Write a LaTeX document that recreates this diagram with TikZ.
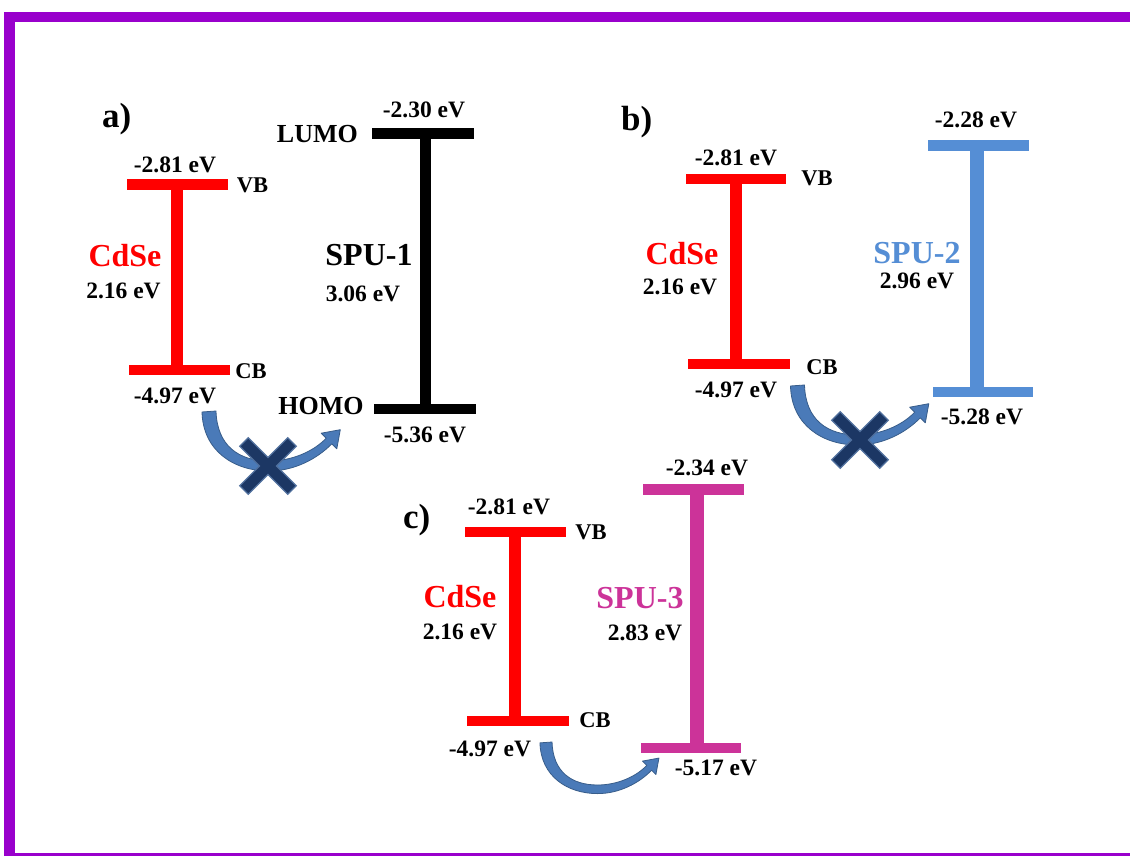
\documentclass[tikz,border=0pt]{standalone}
\usepackage{fontspec}
\setmainfont{Liberation Serif}
\definecolor{framecol}{HTML}{9900CC}
\definecolor{cdsecol}{HTML}{FF0000}
\definecolor{spuone}{HTML}{000000}
\definecolor{sputwo}{HTML}{558ED5}
\definecolor{sputhree}{HTML}{CC3399}
\definecolor{arrowfill}{HTML}{4A7AB8}
\definecolor{arrowedge}{HTML}{385D8A}
\definecolor{crossfill}{HTML}{1C3764}
\definecolor{crossedge}{HTML}{50709E}
\tikzset{
  hlevel/.style={line width=10.5pt, line cap=butt},
  vlevel/.style={line width=12pt, line cap=butt},
  evlab/.style={font=\fontsize{23.5}{26}\selectfont\bfseries, inner sep=0pt},
  bandlab/.style={font=\fontsize{22.5}{25}\selectfont\bfseries, inner sep=0pt},
  orblab/.style={font=\fontsize{26}{29}\selectfont\bfseries, inner sep=0pt},
  namelab/.style={font=\fontsize{32}{36}\selectfont\bfseries, inner sep=0pt},
  panellab/.style={font=\fontsize{35}{40}\selectfont\bfseries, inner sep=0pt, anchor=base west},
  curvedarrow/.pic={
    \filldraw[fill=arrowfill, draw=arrowedge, line width=0.8pt, line join=round]
      (-7,1) .. controls (-6,40) and (25,60) .. (60,60)
      .. controls (85,60) and (108,48) .. (122.8,32.8)
      -- (127.8,37.8) -- (131.3,18.7) -- (112.2,22.2) -- (117.2,27.2)
      .. controls (104,41) and (82,50) .. (60,50)
      .. controls (30,50) and (8,35) .. (7,0) -- cycle;
  },
  crossmark/.pic={
    \filldraw[fill=crossfill, draw=crossedge, line width=1.2pt, rotate=45]
      (6,6) -- (34,6) -- (34,-6) -- (6,-6) -- (6,-34) -- (-6,-34) -- (-6,-6)
      -- (-34,-6) -- (-34,6) -- (-6,6) -- (-6,34) -- (6,34) -- cycle;
  }
}
\begin{document}
\begin{tikzpicture}[x=1pt,y=-1pt]
\useasboundingbox (0,0) rectangle (1130,856);
\clip (0,0) rectangle (1130,856);
\fill[white] (0,0) rectangle (1130,856);
% frame
\draw[framecol, line width=10.5pt] (9.5,17) rectangle (1140,858.5);

% ===== panel a =====
\node[panellab] (pa) at (102,128) {a)};
\draw[cdsecol, hlevel] (127,184.5) -- (228,184.5);
\draw[cdsecol, vlevel] (176.5,184.5) -- (176.5,370);
\draw[cdsecol, hlevel] (129,370) -- (230,370);
\node[evlab] (a-vbv) at (175,165) {-2.81 eV};
\node[bandlab] (a-vb) at (252.5,185.5) {VB};
\node[namelab, text=cdsecol] (a-cdse) at (125,256) {CdSe};
\node[evlab] (a-gap) at (123.5,291) {2.16 eV};
\node[bandlab] (a-cb) at (251,371) {CB};
\node[evlab] (a-cbv) at (175,396) {-4.97 eV};

\draw[spuone, hlevel] (372,133.5) -- (474,133.5);
\draw[spuone, vlevel, line width=11pt] (425.5,133.5) -- (425.5,409);
\draw[spuone, hlevel] (374,409) -- (476,409);
\node[evlab] (a-lumov) at (424,110) {-2.30 eV};
\node[orblab, anchor=east] (a-lumo) at (358,134) {LUMO};
\node[namelab] (a-spu) at (369,255) {SPU-1};
\node[evlab] (a-spugap) at (363,294) {3.06 eV};
\node[orblab] (a-homo) at (321,406) {HOMO};
\node[evlab] (a-homov) at (425,435) {-5.36 eV};

\pic at (209,411) {curvedarrow};
\pic at (268,466) {crossmark};

% ===== panel b =====
\node[panellab] (pb) at (621,131) {b)};
\draw[cdsecol, hlevel] (686,179) -- (786,179);
\draw[cdsecol, vlevel] (736,179) -- (736,364);
\draw[cdsecol, hlevel] (688,364) -- (790,364);
\node[evlab] (b-vbv) at (736,158) {-2.81 eV};
\node[bandlab] (b-vb) at (817,178) {VB};
\node[namelab, text=cdsecol] (b-cdse) at (682,254) {CdSe};
\node[evlab] (b-gap) at (680,287) {2.16 eV};
\node[bandlab] (b-cb) at (822,367) {CB};
\node[evlab] (b-cbv) at (736,390) {-4.97 eV};

\draw[sputwo, hlevel] (928,145.5) -- (1029,145.5);
\draw[sputwo, vlevel, line width=14pt] (976.5,145.5) -- (976.5,392);
\draw[sputwo, hlevel] (933,392) -- (1033,392);
\node[evlab] (b-lumov) at (976,119.5) {-2.28 eV};
\node[namelab, text=sputwo] (b-spu) at (917,253) {SPU-2};
\node[evlab] (b-spugap) at (917,281) {2.96 eV};
\node[evlab] (b-homov) at (982,417) {-5.28 eV};

\pic at (797.5,385) {curvedarrow};
\pic at (860,440) {crossmark};

% ===== panel c =====
\node[panellab] (pc) at (403,528) {c)};
\draw[cdsecol, hlevel] (465,532) -- (566,532);
\draw[cdsecol, vlevel] (515,532) -- (515,721);
\draw[cdsecol, hlevel] (467,721) -- (569,721);
\node[evlab] (c-vbv) at (509,507) {-2.81 eV};
\node[bandlab] (c-vb) at (591,532.5) {VB};
\node[namelab, text=cdsecol] (c-cdse) at (460,597) {CdSe};
\node[evlab] (c-gap) at (460,632) {2.16 eV};
\node[bandlab] (c-cb) at (595,720) {CB};
\node[evlab] (c-cbv) at (490,749) {-4.97 eV};

\draw[sputhree, hlevel] (643,489.5) -- (744,489.5);
\draw[sputhree, vlevel, line width=14pt] (697,489.5) -- (697,748);
\draw[sputhree, hlevel] (641,748) -- (741,748);
\node[evlab] (c-lumov) at (707,468) {-2.34 eV};
\node[namelab, text=sputhree] (c-spu) at (640,598) {SPU-3};
\node[evlab] (c-spugap) at (645,633) {2.83 eV};
\node[evlab] (c-homov) at (716,768) {-5.17 eV};

\pic[scale=0.86] at (546,742) {curvedarrow};
\end{tikzpicture}
\end{document}
